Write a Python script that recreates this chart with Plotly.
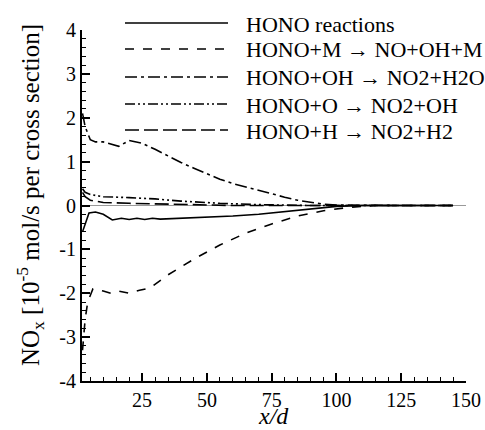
import plotly.graph_objects as go

# x/d positions and NOx source terms per reaction [1e-5 mol/s per cross section]
x_total = [2, 4.5, 7, 10, 13.5, 17, 20, 23, 26, 29, 32, 40, 50, 60, 70, 80, 90, 100, 110, 120, 130, 145]
y_total = [-0.6, -0.17, -0.15, -0.2, -0.33, -0.29, -0.32, -0.29, -0.32, -0.29, -0.31, -0.29, -0.27, -0.24, -0.2, -0.14, -0.08, -0.02, 0, 0, 0, 0]

x_m = [2, 3, 4, 6, 10, 13, 16, 20, 24, 28, 35, 45, 55, 65, 75, 85, 95, 105, 115, 125, 135, 145]
y_m = [-3.3, -2.6, -2.2, -1.9, -1.95, -2.0, -1.95, -2.0, -1.93, -1.88, -1.58, -1.22, -0.9, -0.63, -0.42, -0.24, -0.12, -0.04, 0, 0, 0, 0]

x_oh = [2, 3, 5, 7, 10, 13, 16, 20, 25, 30, 35, 40, 45, 50, 55, 60, 65, 70, 75, 80, 85, 90, 95, 100, 110, 125, 145]
y_oh = [2.1, 1.8, 1.5, 1.45, 1.45, 1.4, 1.35, 1.48, 1.42, 1.28, 1.13, 0.98, 0.85, 0.72, 0.6, 0.5, 0.42, 0.34, 0.26, 0.19, 0.12, 0.07, 0.03, 0.01, 0, 0, 0]

x_o = [2, 3, 5, 10, 20, 30, 40, 55, 70, 90, 110, 145]
y_o = [0.38, 0.3, 0.25, 0.2, 0.18, 0.15, 0.1, 0.05, 0.02, 0, 0, 0]

x_h = [2, 3, 5, 10, 20, 40, 60, 80, 110, 145]
y_h = [0.3, 0.2, 0.12, 0.07, 0.05, 0.02, 0, 0, 0, 0]

names = [
    "HONO reactions",
    "HONO+M \u2192 NO+OH+M",
    "HONO+OH \u2192 NO2+H2O",
    "HONO+O \u2192 NO2+OH",
    "HONO+H \u2192 NO2+H2",
]

y_ticks = [-4, -3, -2, -1, 0, 1, 2, 3, 4]
x_ticks = [25, 50, 75, 100, 125, 150]

dashes = ["solid", "dash", "12px,4px,3px,4px", "10px,3px,2px,3px,2px,3px", "14px,5px"]
series = [(x_total, y_total), (x_m, y_m), (x_oh, y_oh), (x_o, y_o), (x_h, y_h)]

FONT = "Times New Roman"
W, H = 485, 430
ML, MR, MT, MB = 82, 19, 30, 49
PW, PH = W - ML - MR, H - MT - MB


def px_to_paper(px, py):
    return (px - ML) / PW, (H - MB - py) / PH


fig = go.Figure()
for (xs, ys), dash, name in zip(series, dashes, names):
    fig.add_trace(go.Scatter(
        x=xs, y=ys, mode="lines", name=name, showlegend=False,
        line=dict(color="black", width=1.6, dash=dash),
    ))

# Legend keys: long line samples with the label to their right, above the plot
legend_rows = [23, 49, 77, 104, 130]
for row, dash, name in zip(legend_rows, dashes, names):
    x0, yk = px_to_paper(125, row)
    x1, _ = px_to_paper(228, row)
    xt, yt = px_to_paper(244, row + 1)
    fig.add_shape(type="line", xref="paper", yref="paper", x0=x0, x1=x1, y0=yk, y1=yk,
                  line=dict(color="black", width=1.6, dash=dash))
    fig.add_annotation(xref="paper", yref="paper", x=xt, y=yt, text=name, showarrow=False,
                       xanchor="left", yanchor="middle",
                       font=dict(family=FONT, size=22, color="black"))

# Axis titles
tx, ty = px_to_paper(30, 195)
fig.add_annotation(xref="paper", yref="paper", x=tx, y=ty, textangle=-90, showarrow=False,
                   xanchor="center", yanchor="middle",
                   text="NO<sub>x</sub> [10<sup>-5</sup> mol/s per cross section]",
                   font=dict(family=FONT, size=25, color="black"))
bx, by = px_to_paper(273, 431)
fig.add_annotation(xref="paper", yref="paper", x=bx, y=by, showarrow=False,
                   xanchor="center", yanchor="bottom", text="<i>x/d</i>",
                   font=dict(family=FONT, size=24, color="black"))

fig.update_layout(
    width=W, height=H,
    margin=dict(l=ML, r=MR, t=MT, b=MB, autoexpand=False),
    plot_bgcolor="white", paper_bgcolor="white",
    font=dict(family=FONT, size=20, color="black"),
    showlegend=False,
    xaxis=dict(
        range=[1.8, 150], tickvals=x_ticks, ticktext=[str(v) for v in x_ticks],
        ticks="inside", ticklen=8, tickwidth=1.5, tickcolor="black",
        showline=True, linecolor="black", linewidth=2,
        showgrid=False, zeroline=False,
        minor=dict(dtick=5, tick0=0, ticks="inside", ticklen=4, tickcolor="black", tickwidth=1),
        tickfont=dict(family=FONT, size=20),
    ),
    yaxis=dict(
        range=[-4, 4], tickvals=y_ticks, ticktext=[str(v) for v in y_ticks],
        ticks="inside", ticklen=8, tickwidth=1.5, tickcolor="black",
        showline=True, linecolor="black", linewidth=2,
        showgrid=False, zeroline=True, zerolinecolor="#999999", zerolinewidth=1,
        minor=dict(dtick=0.2, tick0=0, ticks="inside", ticklen=4, tickcolor="black", tickwidth=1),
        tickfont=dict(family=FONT, size=20),
    ),
)

fig.write_html("out.html")
